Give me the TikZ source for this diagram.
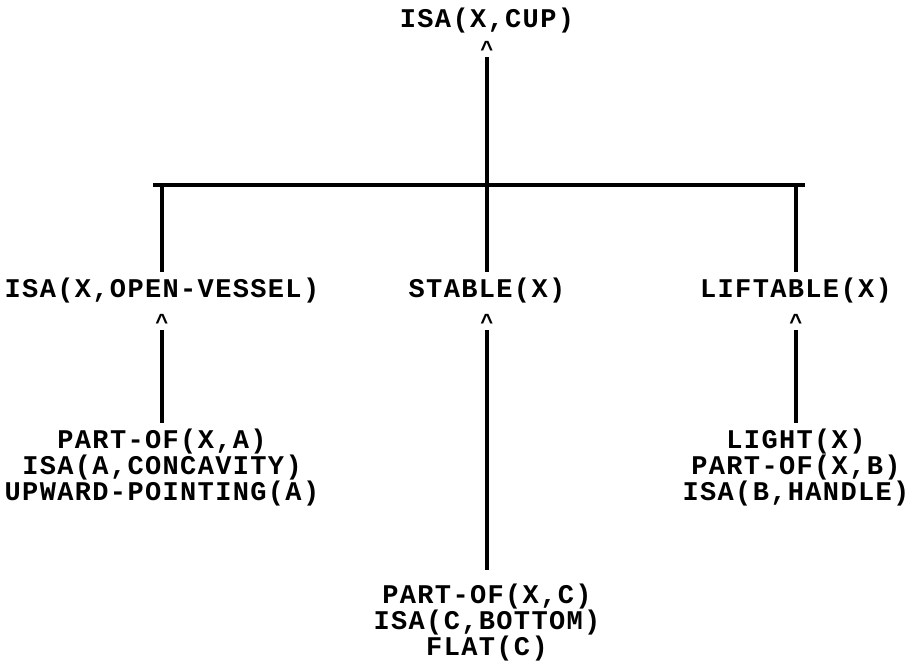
\documentclass[tikz,border=0pt]{standalone}
\usepackage{fontspec}
\newfontfamily\predfont[LetterSpace=5]{Liberation Mono}
\begin{document}
\begin{tikzpicture}[x=1pt,y=-1pt,
  pred/.style={font=\predfont\bfseries\fontsize{27}{26}\selectfont,inner sep=0pt,outer ysep=6pt,align=center},
  hat/.style={font=\predfont\bfseries\fontsize{22}{22}\selectfont,inner sep=0pt,anchor=base},
  link/.style={line width=3.2pt}]
\useasboundingbox (0,0) rectangle (914,663);
\node[pred,anchor=base] (cup) at (487,28) {ISA(X,CUP)};
\node[hat] (hcup) at (487,57) {\textasciicircum};
\node[pred,anchor=base] (vessel) at (162,298) {ISA(X,OPEN-VESSEL)};
\node[pred,anchor=base] (stable) at (487,298) {STABLE(X)};
\node[pred,anchor=base] (liftable) at (796,298) {LIFTABLE(X)};
\node[hat] (hvessel) at (162,330) {\textasciicircum};
\node[hat] (hstable) at (487,330) {\textasciicircum};
\node[hat] (hliftable) at (796,330) {\textasciicircum};
\node[pred,anchor=north] (concav) at (162,423) {PART-OF(X,A)\\ISA(A,CONCAVITY)\\UPWARD-POINTING(A)};
\node[pred,anchor=north] (bottom) at (487,578) {PART-OF(X,C)\\ISA(C,BOTTOM)\\FLAT(C)};
\node[pred,anchor=north] (handle) at (796,423) {LIGHT(X)\\PART-OF(X,B)\\ISA(B,HANDLE)};
\coordinate (barl) at (153,185);
\coordinate (barr) at (805,185);
\draw[link] (barl) -- (barr);
\draw[link] (hcup.south) -- (stable.north);
\draw[link] (vessel.north |- barl) -- (vessel.north);
\draw[link] (liftable.north |- barl) -- (liftable.north);
\draw[link] (hvessel.south) -- (concav.north);
\draw[link,shorten >=8pt] (hstable.south) -- (bottom.north);
\draw[link] (hliftable.south) -- (handle.north);
\end{tikzpicture}
\end{document}
